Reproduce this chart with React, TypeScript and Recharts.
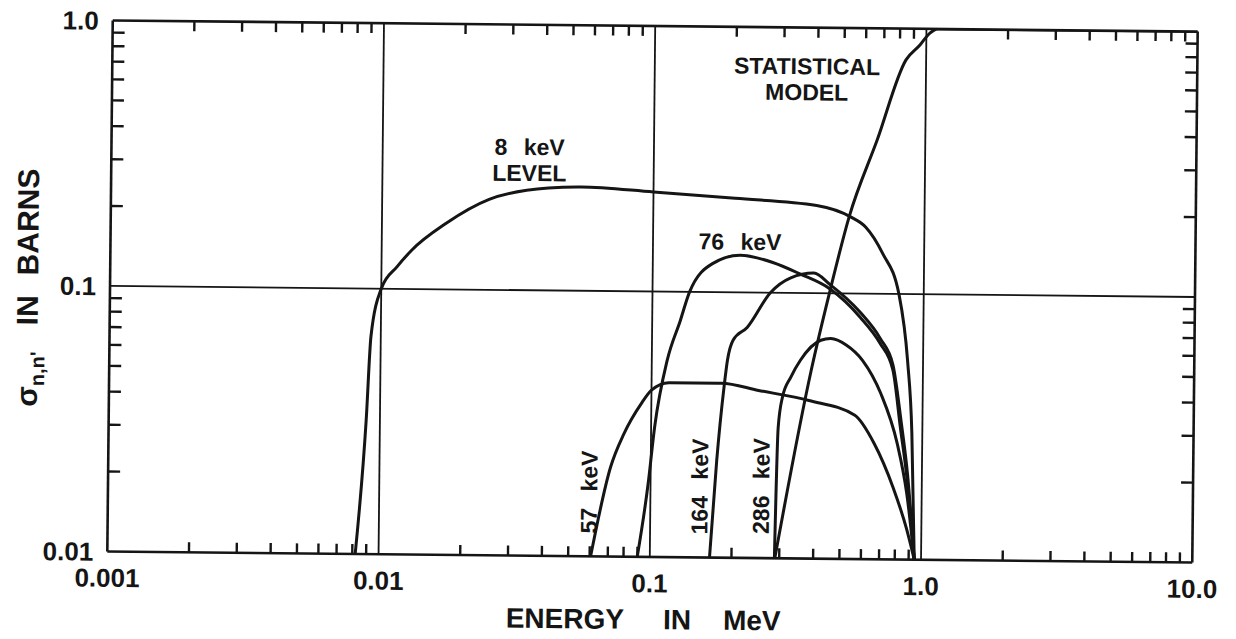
import React from "react";
import { LineChart, Line, XAxis, YAxis, ReferenceLine, ReferenceDot } from "recharts";

// energy in MeV vs sigma(n,n') in barns
const lvl8E = [0.0082, 0.0089, 0.0092, 0.01, 0.0114, 0.0129, 0.0172, 0.0248, 0.041, 0.054, 0.1, 0.2, 0.4, 0.536, 0.608, 0.703, 0.81, 0.877, 0.915, 0.944];
const lvl8S = [0.01, 0.032, 0.066, 0.1, 0.121, 0.14, 0.177, 0.219, 0.243, 0.246, 0.237, 0.226, 0.214, 0.194, 0.178, 0.142, 0.1, 0.056, 0.03, 0.01];

const lvl57E = [0.0605, 0.0711, 0.0795, 0.0918, 0.1, 0.116, 0.181, 0.248, 0.381, 0.563, 0.665, 0.785, 0.881, 0.944];
const lvl57S = [0.01, 0.0217, 0.0291, 0.0378, 0.0425, 0.0454, 0.0454, 0.0428, 0.0394, 0.0348, 0.0273, 0.0186, 0.0131, 0.01];

const lvl76E = [0.0899, 0.098, 0.103, 0.114, 0.127, 0.137, 0.166, 0.21, 0.277, 0.349, 0.45, 0.584, 0.693, 0.775, 0.83, 0.881, 0.944];
const lvl76S = [0.01, 0.0189, 0.0308, 0.0552, 0.078, 0.1, 0.128, 0.138, 0.13, 0.118, 0.104, 0.0815, 0.0651, 0.0516, 0.0313, 0.0203, 0.01];

const lvl164E = [0.166, 0.175, 0.185, 0.19, 0.199, 0.224, 0.272, 0.323, 0.393, 0.45, 0.584, 0.693, 0.775, 0.835, 0.885, 0.944];
const lvl164S = [0.01, 0.0232, 0.0438, 0.0553, 0.066, 0.0738, 0.1, 0.114, 0.119, 0.108, 0.085, 0.068, 0.054, 0.033, 0.021, 0.01];

const lvl286E = [0.288, 0.294, 0.304, 0.326, 0.353, 0.419, 0.456, 0.52, 0.598, 0.7, 0.809, 0.881, 0.944];
const lvl286S = [0.01, 0.031, 0.0404, 0.0482, 0.0558, 0.0665, 0.0676, 0.064, 0.0561, 0.0422, 0.0273, 0.0177, 0.01];

const statE = [0.289, 0.387, 0.452, 0.527, 0.665, 0.843, 0.948, 1.03, 1.1, 10];
const statS = [0.01, 0.051, 0.103, 0.194, 0.38, 0.762, 0.868, 0.964, 1.0, 1.0];

// axes
const xMajor = [0.001, 0.01, 0.1, 1, 10];
const xMajorLabels = ["0.001", "0.01", "0.1", "1.0", "10.0"];
const xMinor = [
  0.002, 0.003, 0.004, 0.005, 0.006, 0.007, 0.008, 0.009,
  0.02, 0.03, 0.04, 0.05, 0.06, 0.07, 0.08, 0.09,
  0.2, 0.3, 0.4, 0.5, 0.6, 0.7, 0.8, 0.9,
  2, 3, 4, 5, 6, 7, 8, 9,
];
const yMajor = [0.01, 0.1, 1];
const yMajorLabels = ["0.01", "0.1", "1.0"];
const yMinor = [0.02, 0.03, 0.04, 0.05, 0.06, 0.07, 0.08, 0.09, 0.2, 0.3, 0.4, 0.5, 0.6, 0.7, 0.8, 0.9];
const xGrid = [0.01, 0.1, 1];
const yGrid = [0.1];

// curve labels, anchored in data coordinates
const notes = [
  { lines: ["8 keV", "LEVEL"], e: 0.0348, s: 0.31, rot: false },
  { lines: ["76 keV"], e: 0.2093, s: 0.1555, rot: false },
  { lines: ["STATISTICAL", "MODEL"], e: 0.364, s: 0.64, rot: false },
  { lines: ["57 keV"], e: 0.0593, s: 0.01747, rot: true },
  { lines: ["164 keV"], e: 0.1516, s: 0.01851, rot: true },
  { lines: ["286 keV"], e: 0.2555, s: 0.01869, rot: true },
];

const series = [
  { name: "8 keV", e: lvl8E, s: lvl8S },
  { name: "57 keV", e: lvl57E, s: lvl57S },
  { name: "76 keV", e: lvl76E, s: lvl76S },
  { name: "164 keV", e: lvl164E, s: lvl164S },
  { name: "286 keV", e: lvl286E, s: lvl286S },
  { name: "statistical", e: statE, s: statS },
];

const pts = (e: number[], s: number[]) => e.map((v, i) => ({ e: v, s: s[i] }));

const INK = "#151515";
const FONT = "'Liberation Sans', Arial, sans-serif";
const TICK_X = 10;
const TICK_Y = 12;

const labelStyle = { fontFamily: FONT, fontWeight: "bold" as const, fill: INK };

function BottomLabel(props: any) {
  const { x, y, payload } = props;
  const i = xMajor.indexOf(payload.value);
  if (i < 0) return <g />;
  return (
    <text x={x} y={y + 26} dy="0.36em" textAnchor="middle" fontSize={26} {...labelStyle}>
      {xMajorLabels[i]}
    </text>
  );
}

function LeftLabel(props: any) {
  const { x, y, payload } = props;
  const i = yMajor.indexOf(payload.value);
  if (i < 0) return <g />;
  return (
    <text x={x - 14} y={y} dy="0.36em" textAnchor="end" fontSize={26} {...labelStyle}>
      {yMajorLabels[i]}
    </text>
  );
}

// minor ticks: short inward stubs at both ends of a full-height/full-width reference line
function xStub(p: any) {
  const top = Math.min(p.y1, p.y2);
  const bot = Math.max(p.y1, p.y2);
  return (
    <g>
      <line x1={p.x1} x2={p.x1} y1={bot} y2={bot - TICK_X} stroke={INK} strokeWidth={2.4} />
      <line x1={p.x1} x2={p.x1} y1={top} y2={top + TICK_X} stroke={INK} strokeWidth={2.4} />
    </g>
  );
}

function yStub(p: any) {
  const left = Math.min(p.x1, p.x2);
  const right = Math.max(p.x1, p.x2);
  return (
    <g>
      <line x1={left} x2={left + TICK_Y} y1={p.y1} y2={p.y1} stroke={INK} strokeWidth={2.4} />
      <line x1={right} x2={right - TICK_Y} y1={p.y1} y2={p.y1} stroke={INK} strokeWidth={2.4} />
    </g>
  );
}

function XTitle(props: any) {
  const vb = props.viewBox;
  const cx = vb.x + vb.width / 2 - 6;
  return (
    <text x={cx} y={vb.y + 62} dy="0.36em" textAnchor="middle" fontSize={28} {...labelStyle}>
      <tspan>ENERGY</tspan>
      <tspan dx={39}>IN</tspan>
      <tspan dx={32}>MeV</tspan>
    </text>
  );
}

function YTitle(props: any) {
  const vb = props.viewBox;
  const bx = vb.x + 38;
  const cy = vb.y + vb.height / 2 + 2.5;
  return (
    <text x={bx} y={cy} transform={`rotate(-90 ${bx} ${cy})`} textAnchor="middle" fontSize={30} {...labelStyle}>
      <tspan>σ</tspan>
      <tspan fontSize={20} dy={7}>n,n'</tspan>
      <tspan dy={-7} dx={26}>IN</tspan>
      <tspan dx={20}>BARNS</tspan>
    </text>
  );
}

function Note(props: any, lines: string[], rot: boolean) {
  const { cx, cy } = props;
  const lead = 26;
  const top = cy - ((lines.length - 1) * lead) / 2;
  return (
    <text
      x={cx}
      y={top}
      textAnchor="middle"
      transform={rot ? `rotate(-90 ${cx} ${cy})` : undefined}
      fontSize={23}
      {...labelStyle}
      style={{ wordSpacing: "10px" }}
    >
      {lines.map((t, k) => (
        <tspan key={t} x={cx} dy={k === 0 ? "0.36em" : lead}>
          {t}
        </tspan>
      ))}
    </text>
  );
}

export default function App() {
  return (
    <div style={{ position: "absolute", left: 0, top: 0, width: 1236, height: 639, overflow: "hidden", background: "#fff" }}>
      {/* the scanned figure sits slightly turned clockwise */}
      <div style={{ transform: "rotate(0.585deg)", transformOrigin: "654px 291.5px" }}>
        <LineChart width={1236} height={639} margin={{ top: 26, right: 41, bottom: 0, left: 0 }}>
          <XAxis
            xAxisId="b"
            dataKey="e"
            type="number"
            scale="log"
            domain={[0.001, 10]}
            allowDataOverflow
            ticks={xMajor}
            interval={0}
            height={82}
            tickSize={0}
            tickMargin={0}
            tickLine={false}
            axisLine={{ stroke: INK, strokeWidth: 2.6 }}
            tick={BottomLabel}
            label={{ content: XTitle }}
          />
          <XAxis
            xAxisId="t"
            orientation="top"
            mirror
            type="number"
            scale="log"
            domain={[0.001, 10]}
            allowDataOverflow
            ticks={xMajor}
            tickLine={false}
            axisLine={{ stroke: INK, strokeWidth: 2.6 }}
            tick={false}
          />
          <YAxis
            yAxisId="l"
            type="number"
            scale="log"
            domain={[0.01, 1]}
            allowDataOverflow
            ticks={yMajor}
            interval={0}
            width={110}
            tickSize={0}
            tickMargin={0}
            tickLine={false}
            axisLine={{ stroke: INK, strokeWidth: 2.6 }}
            tick={LeftLabel}
            label={{ content: YTitle }}
          />
          <YAxis
            yAxisId="r"
            orientation="right"
            mirror
            type="number"
            scale="log"
            domain={[0.01, 1]}
            allowDataOverflow
            ticks={yMajor}
            tickLine={false}
            axisLine={{ stroke: INK, strokeWidth: 2.6 }}
            tick={false}
          />

          {xMinor.map((v) => (
            <ReferenceLine key={`tx${v}`} xAxisId="b" yAxisId="l" x={v} shape={xStub} />
          ))}
          {yMinor.map((v) => (
            <ReferenceLine key={`ty${v}`} xAxisId="b" yAxisId="l" y={v} shape={yStub} />
          ))}
          {xGrid.map((v) => (
            <ReferenceLine key={`gx${v}`} xAxisId="b" yAxisId="l" x={v} stroke={INK} strokeWidth={1.8} />
          ))}
          {yGrid.map((v) => (
            <ReferenceLine key={`gy${v}`} xAxisId="b" yAxisId="l" y={v} stroke={INK} strokeWidth={1.8} />
          ))}

          {series.map((sr) => (
            <Line
              key={sr.name}
              xAxisId="b"
              yAxisId="l"
              data={pts(sr.e, sr.s)}
              dataKey="s"
              type="monotone"
              stroke={INK}
              strokeWidth={3}
              dot={false}
              activeDot={false}
              isAnimationActive={false}
            />
          ))}

          {notes.map((n) => (
            <ReferenceDot
              key={n.lines[0]}
              xAxisId="b"
              yAxisId="l"
              x={n.e}
              y={n.s}
              r={0}
              shape={(p: any) => Note(p, n.lines, n.rot)}
            />
          ))}
        </LineChart>
      </div>
    </div>
  );
}
